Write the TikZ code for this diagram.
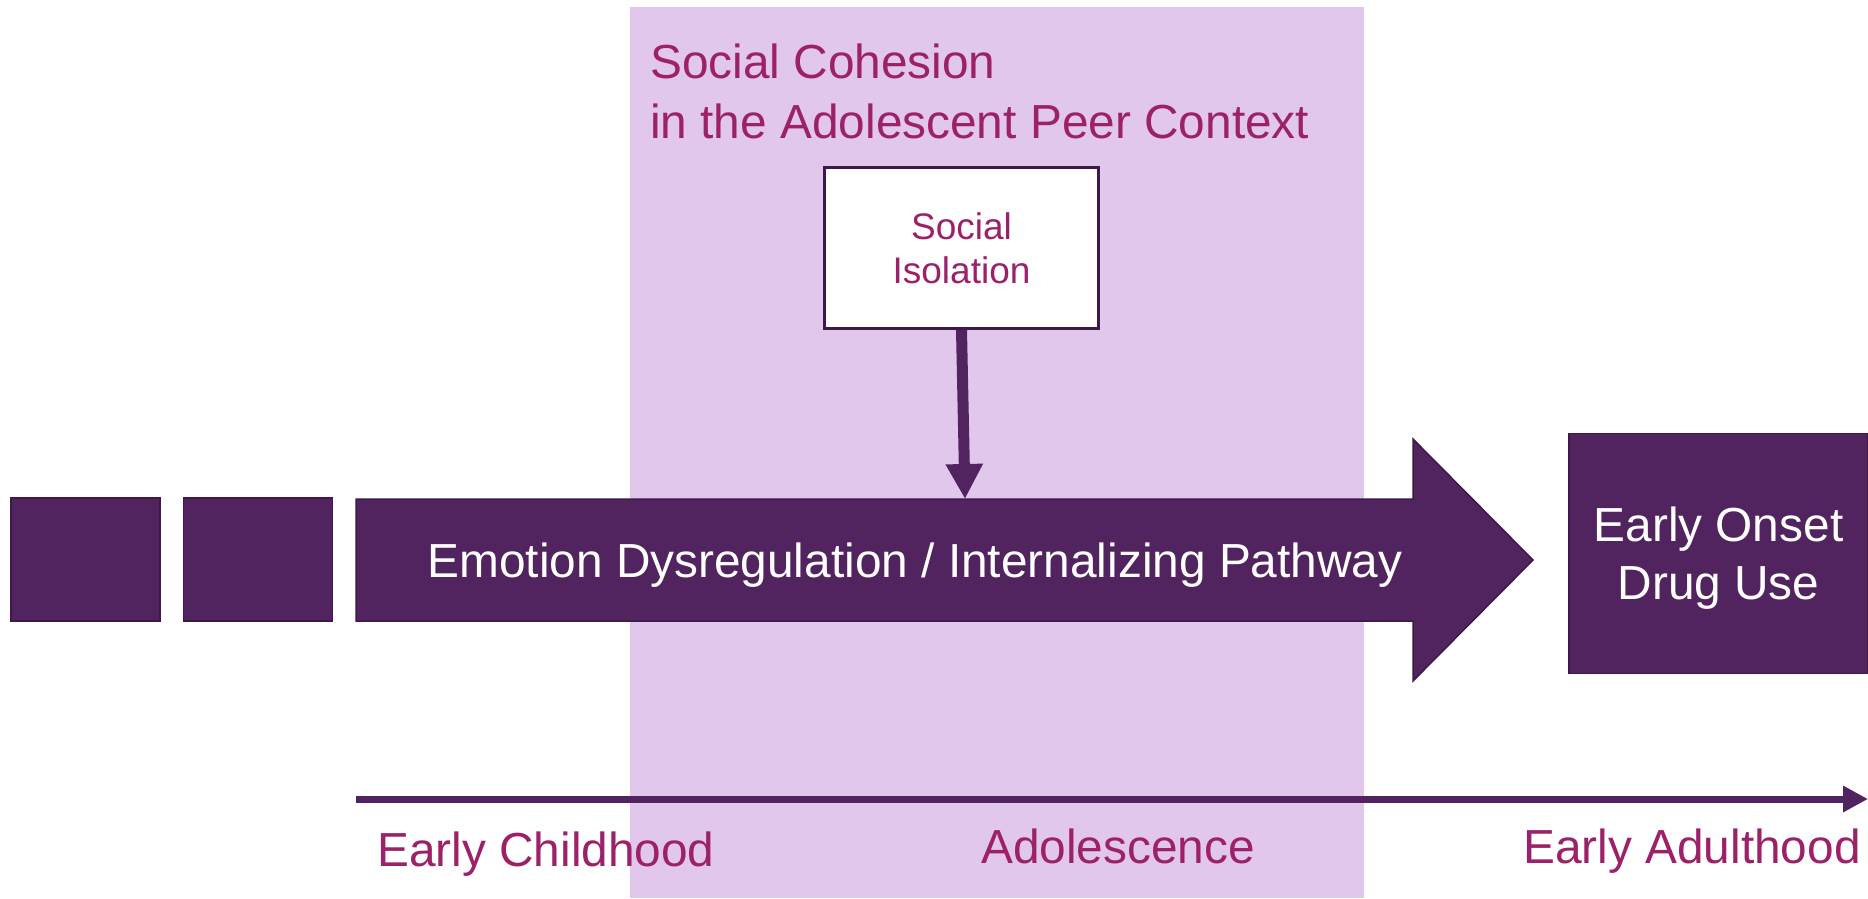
\documentclass[tikz,border=0pt]{standalone}
\usepackage{fontspec}
\setmainfont{Liberation Sans}
\usetikzlibrary{arrows.meta}
\definecolor{dpurple}{HTML}{52245F}
\definecolor{dborder}{HTML}{3E1848}
\definecolor{lav}{HTML}{E0C7EB}
\definecolor{magtext}{HTML}{9C2168}
\begin{document}
\begin{tikzpicture}[x=1pt,y=-1pt,
  block/.style={fill=dpurple,draw=dborder,line width=1.5pt,inner sep=0pt},
  bigfont/.style={font=\fontsize{47.8}{58}\selectfont},
  lbl/.style={text=magtext,bigfont,inner sep=0pt},
  wlbl/.style={text=white,bigfont,inner sep=0pt},
  sibox/.style={fill=white,draw=dborder,line width=2.5pt,inner sep=0pt,
    minimum width=274pt,minimum height=161pt,align=center,text=magtext,
    font=\fontsize{37}{44}\selectfont},
  fatarrow/.style={line width=11pt,draw=dpurple,-{Triangle[length=35pt,width=35pt]}},
  timearrow/.style={line width=7pt,draw=dpurple,-{Triangle[length=25pt,width=25pt]}}
]
\useasboundingbox (0,0) rectangle (1868,898);
% adolescence band
\fill[lav] (630,7) rectangle (1364,898);
% title
\node[lbl,anchor=base west] (title1) at (650,78) {Social Cohesion};
\node[lbl,anchor=base west] (title2) at (650,138) {in the Adolescent Peer Context};
% small squares
\node[block,minimum width=149pt,minimum height=123pt] (sq1) at (85.5,559.5) {};
\node[block,minimum width=149pt,minimum height=123pt] (sq2) at (258,559.5) {};
% big arrow
\filldraw[fill=dpurple,draw=dborder,line width=1.5pt]
  (356,499) -- (1413,499) -- (1413,439) -- (1533,560) -- (1413,681) -- (1413,621) -- (356,621) -- cycle;
\node[wlbl,anchor=base] (path) at (915,577) {Emotion Dysregulation / Internalizing Pathway};
% outcome box
\node[block,minimum width=299pt,minimum height=240pt,align=center,text=white,bigfont] (drug) at (1718.5,553.5) {};
\node[wlbl,align=center] (drugtxt) at (1718.5,558) {Early Onset\\Drug Use};
% social isolation
\node[sibox] (si) at (961.5,248) {Social\\Isolation};
\coordinate (hit) at (965,499);
\draw[fatarrow] (si.south) -- (hit);
% timeline
\coordinate (t0) at (356,799);
\coordinate (t1) at (1868,799);
\draw[timearrow] (t0) -- (t1);
\node[lbl,anchor=base west] (ec) at (377,866) {Early Childhood};
\node[lbl,anchor=base] (adol) at (1118,863) {Adolescence};
\node[lbl,anchor=base east] (ea) at (1861,863) {Early Adulthood};
\end{tikzpicture}
\end{document}
